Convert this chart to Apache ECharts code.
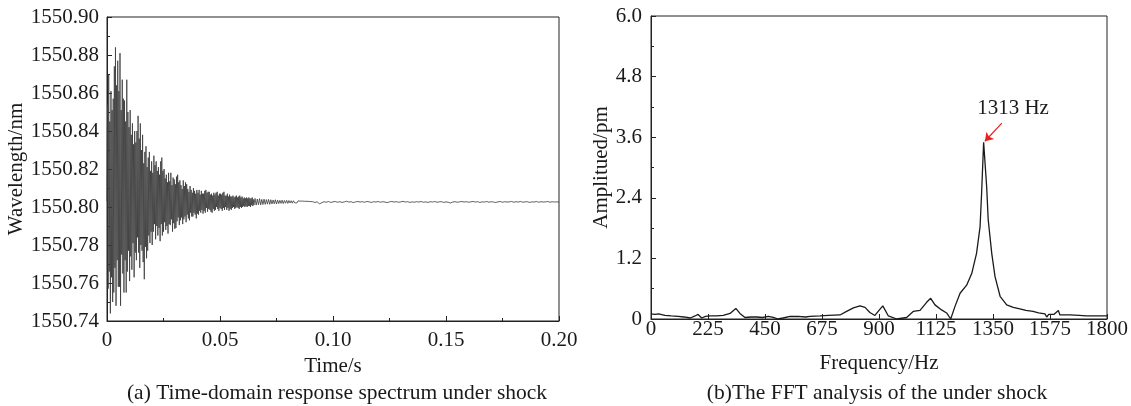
<!DOCTYPE html>
<html>
<head>
<meta charset="utf-8">
<script src="https://cdn.jsdelivr.net/npm/echarts@6/dist/echarts.min.js"></script>
<style>
html,body{margin:0;padding:0;background:#fff;}
#chart{width:1131px;height:406px;}
</style>
</head>
<body>
<div id="chart"></div>
<script>
// ---- (a) time-domain response: time (ms) and wavelength (nm) ----
var timeMs = [
0,0.25,0.5,0.75,1,1.25,1.5,1.75,2,2.25,2.5,2.75,3,3.25,3.5,3.75,4,4.25,4.5,4.75,
5,5.25,5.5,5.75,6,6.25,6.5,6.75,7,7.25,7.5,7.75,8,8.25,8.5,8.75,9,9.25,9.5,9.75,
10,10.25,10.5,10.75,11,11.25,11.5,11.75,12,12.25,12.5,12.75,13,13.25,13.5,13.75,14,14.25,14.5,14.75,
15,15.25,15.5,15.75,16,16.25,16.5,16.75,17,17.25,17.5,17.75,18,18.25,18.5,18.75,19,19.25,19.5,19.75,
20,20.25,20.5,20.75,21,21.25,21.5,21.75,22,22.25,22.5,22.75,23,23.25,23.5,23.75,24,24.25,24.5,24.75,
25,25.25,25.5,25.75,26,26.25,26.5,26.75,27,27.25,27.5,27.75,28,28.25,28.5,28.75,29,29.25,29.5,29.75,
30,30.25,30.5,30.75,31,31.25,31.5,31.75,32,32.25,32.5,32.75,33,33.25,33.5,33.75,34,34.25,34.5,34.75,
35,35.25,35.5,35.75,36,36.25,36.5,36.75,37,37.25,37.5,37.75,38,38.25,38.5,38.75,39,39.25,39.5,39.75,
40,40.25,40.5,40.75,41,41.25,41.5,41.75,42,42.25,42.5,42.75,43,43.25,43.5,43.75,44,44.25,44.5,44.75,
45,45.25,45.5,45.75,46,46.25,46.5,46.75,47,47.25,47.5,47.75,48,48.25,48.5,48.75,49,49.25,49.5,49.75,
50,50.25,50.5,50.75,51,51.25,51.5,51.75,52,52.25,52.5,52.75,53,53.25,53.5,53.75,54,54.25,54.5,54.75,
55,55.25,55.5,55.75,56,56.25,56.5,56.75,57,57.25,57.5,57.75,58,58.25,58.5,58.75,59,59.25,59.5,59.75,
60,60.25,60.5,60.75,61,61.25,61.5,61.75,62,62.25,62.5,62.75,63,63.25,63.5,63.75,64,64.25,64.5,64.75,
65,
65.5,66,66.5,67,67.5,68,68.5,69,69.5,70,70.5,71,71.5,72,72.5,73,73.5,74,74.5,75,
75.5,76,76.5,77,77.5,78,78.5,79,79.5,80,80.5,81,81.5,82,82.5,83,83.5,84,84.5,85,
85.5,86,86.5,87,87.5,88,88.5,89,89.5,90,
91,92,93,94,95,96,97,98,99,100,101,102,103,104,105,106,107,108,109,110,
111,112,113,114,115,116,117,118,119,120,121,122,123,124,125,126,127,128,129,130,
131,132,133,134,135,136,137,138,139,140,141,142,143,144,145,146,147,148,149,150,
151,152,153,154,155,156,157,158,159,160,161,162,163,164,165,166,167,168,169,170,
171,172,173,174,175,176,177,178,179,180,181,182,183,184,185,186,187,188,189,190,
191,192,193,194,195,196,197,198,199,200
];
var wavelengthNm = [
1550.803,
1550.854,1550.757,1550.870,1550.766,1550.845,1550.744,1550.861,1550.763,1550.851,1550.750,
1550.857,1550.755,1550.874,1550.768,1550.884,1550.748,1550.864,1550.772,1550.877,1550.758,
1550.861,1550.758,1550.881,1550.748,1550.851,1550.775,1550.867,1550.765,1550.857,1550.755,
1550.856,1550.772,1550.845,1550.755,1550.867,1550.766,1550.850,1550.777,1550.842,1550.761,
1550.851,1550.774,1550.838,1550.767,1550.844,1550.781,1550.833,1550.763,1550.840,1550.776,
1550.834,1550.772,1550.840,1550.784,1550.848,1550.776,1550.836,1550.768,1550.844,1550.780,
1550.830,1550.777,1550.838,1550.771,1550.823,1550.762,1550.829,1550.779,1550.832,1550.773,
1550.821,1550.777,1550.826,1550.785,1550.829,1550.781,1550.819,1550.787,1550.824,1550.780,
1550.818,1550.787,1550.827,1550.791,1550.822,1550.783,1550.824,1550.790,1550.819,1550.785,
1550.821,1550.789,1550.817,1550.782,1550.824,1550.791,1550.826,1550.785,1550.819,1550.787,
1550.820,1550.792,1550.815,1550.788,1550.817,1550.790,1550.813,1550.786,1550.818,1550.791,
1550.8135,1550.7905,1550.818,1550.7935,1550.8115,1550.787,1550.8155,1550.7915,1550.8145,1550.7885,
1550.812,1550.789,1550.816,1550.7925,1550.817,1550.7945,1550.813,1550.7905,1550.814,1550.793,
1550.8115,1550.7945,1550.8095,1550.791,1550.814,1550.7935,1550.811,1550.795,1550.813,1550.792,
1550.812,1550.796,1550.8095,1550.794,1550.808,1550.793,1550.811,1550.797,1550.809,1550.795,
1550.8075,1550.795,1550.810,1550.797,1550.8085,1550.796,1550.807,1550.794,1550.809,1550.7965,
1550.8075,1550.796,1550.809,1550.798,1550.8065,1550.797,1550.8085,1550.7985,1550.807,1550.7965,
1550.807,1550.798,1550.8085,1550.797,1550.809,1550.7995,1550.8075,1550.7975,1550.808,1550.799,
1550.808,1550.7985,1550.8065,1550.7975,1550.807,1550.797,1550.806,1550.799,1550.8075,1550.798,
1550.8065,1550.7985,1550.8075,1550.800,1550.808,1550.799,1550.806,1550.798,1550.807,1550.7995,
1550.807,1550.799,1550.8065,1550.798,1550.8075,1550.7995,1550.808,1550.7985,1550.806,1550.800,
1550.806,1550.7985,1550.807,1550.7995,1550.8055,1550.798,1550.8065,1550.799,1550.8055,1550.7985,
1550.8055,1550.7995,1550.806,1550.800,1550.805,1550.799,1550.8055,1550.7995,1550.806,1550.800,
1550.805,1550.7995,1550.8055,1550.799,1550.806,1550.800,1550.805,1550.7995,1550.8055,1550.800,
1550.8045,1550.8005,1550.805,1550.800,1550.8045,1550.8005,1550.805,1550.800,1550.8045,1550.8005,
1550.805,1550.8005,1550.8045,1550.800,1550.8045,1550.801,1550.805,1550.8005,1550.804,1550.801,
1550.8045,1550.8010,1550.8042,1550.8012,1550.8044,1550.8011,1550.8040,1550.8013,1550.8041,1550.8014,
1550.8039,1550.8015,1550.8040,1550.8014,1550.8038,1550.8016,1550.8037,1550.8017,1550.8038,1550.8016,
1550.8036,1550.8018,1550.8035,1550.8019,1550.8036,1550.8018,1550.8034,1550.8020,1550.8035,1550.8019,
1550.8034,1550.8021,1550.8033,1550.8020,1550.8033,1550.8022,1550.8032,1550.8021,1550.8032,1550.8023,
1550.8031,1550.8022,1550.8031,1550.8023,1550.8030,1550.8024,1550.8030,1550.8023,1550.8029,1550.8024,
1550.8028,1550.8024,1550.8027,1550.8017,1550.8022,1550.8028,1550.8025,1550.8029,1550.8024,1550.8027,
1550.8029,1550.8025,1550.8028,1550.8024,1550.8027,1550.8030,1550.8026,1550.8028,1550.8023,1550.8027,
1550.8029,1550.8026,1550.8028,1550.8025,1550.8029,1550.8027,1550.8024,1550.8028,1550.8026,1550.8029,
1550.8025,1550.8028,1550.8026,1550.8023,1550.8027,1550.8029,1550.8026,1550.8028,1550.8025,1550.8027,
1550.8030,1550.8026,1550.8028,1550.8024,1550.8027,1550.8025,1550.8028,1550.8026,1550.8029,1550.8025,
1550.8027,1550.8024,1550.8028,1550.8026,1550.8029,1550.8025,1550.8027,1550.8028,1550.8024,1550.8027,
1550.8025,1550.8021,1550.8026,1550.8028,1550.8025,1550.8027,1550.8029,1550.8026,1550.8028,1550.8025,
1550.8027,1550.8029,1550.8026,1550.8028,1550.8024,1550.8027,1550.8026,1550.8029,1550.8025,1550.8028,
1550.8026,1550.8024,1550.8027,1550.8029,1550.8025,1550.8028,1550.8026,1550.8027,1550.8029,1550.8025,
1550.8028,1550.8026,1550.8029,1550.8025,1550.8027,1550.8028,1550.8024,1550.8027,1550.8026,1550.8029,
1550.8025,1550.8028,1550.8026,1550.8027,1550.8029,1550.8025,1550.8028,1550.8026,1550.8027,1550.8026
];

// ---- (b) FFT spectrum: frequency (Hz) and amplitude (pm) ----
var freqHz = [0,15,30,55,80,107,130,155,174,186,200,215,233,259,285,312,335,351,371,395,417,440,463,483,501,521,549,580,610,628,667,700,746,772,799,825,845,864,884,900,915,937,970,1009,1035,1062,1088,1104,1121,1147,1167,1183,1200,1220,1246,1266,1285,1299,1305,1313,1318,1325,1331,1345,1358,1378,1404,1430,1456,1480,1508,1530,1555,1562,1570,1590,1608,1614,1654,1690,1720,1760,1785,1800];
var ampPm = [0.10,0.09,0.10,0.07,0.06,0.05,0.04,0.02,0.06,0.09,0.02,0.05,0.06,0.06,0.07,0.11,0.21,0.11,0.03,0.04,0.04,0.03,0.05,0.03,0.00,0.02,0.05,0.05,0.04,0.05,0.06,0.07,0.08,0.15,0.22,0.26,0.23,0.13,0.07,0.17,0.26,0.06,0.00,0.03,0.15,0.17,0.33,0.41,0.28,0.18,0.12,0.00,0.25,0.51,0.67,0.90,1.30,1.83,2.49,3.50,3.48,2.62,1.97,1.30,0.84,0.45,0.28,0.23,0.20,0.17,0.15,0.12,0.10,0.04,0.09,0.09,0.17,0.08,0.08,0.07,0.06,0.06,0.06,0.06];

// tick ranges and texts
var timeTicks = {min: 0, max: 0.2, step: 0.05};
var wlTicks = {min: 1550.74, max: 1550.90, step: 0.02};
var freqTicks = {min: 0, max: 1800, step: 225};
var ampTicks = {min: 0, max: 6.0, step: 1.2};
var peakLabel = '1313 Hz';
var peakFreq = 1313, peakAmp = 3.50;
var arrowStart = [1385, 3.88];
var labelAt = [1429, 4.16];
var captionA = '(a) Time-domain response spectrum under shock';
var captionB = '(b)The FFT analysis of the under shock';

var FONT = '"Liberation Serif","Times New Roman",serif';
var TXT = '#1a1a1a';
var FS = 21;
var FS_CAP = 21.5;

var timeData = timeMs.map(function (t, i) { return [t / 1000, wavelengthNm[i]]; });
var fftData = freqHz.map(function (f, i) { return [f, ampPm[i]]; });

function axisCommon() {
  return {
    axisLine: {show: true, lineStyle: {color: '#222', width: 1}},
    axisTick: {show: true, inside: true, length: 5, lineStyle: {color: '#222', width: 1}},
    splitLine: {show: false},
    nameTextStyle: {color: TXT, fontFamily: FONT, fontSize: FS}
  };
}
function merge(a, b) { for (var k in b) a[k] = b[k]; return a; }

var chart = echarts.init(document.getElementById('chart'), null, {renderer: 'canvas'});
var option = {
  animation: false,
  backgroundColor: '#fff',
  title: [
    {text: captionA, left: 332, top: 377, textAlign: 'center',
     textStyle: {color: TXT, fontFamily: FONT, fontSize: FS_CAP, fontWeight: 'normal'}},
    {text: captionB, left: 872, top: 377, textAlign: 'center',
     textStyle: {color: TXT, fontFamily: FONT, fontSize: FS_CAP, fontWeight: 'normal'}}
  ],
  grid: [
    {left: 107, top: 17, width: 452, height: 304, show: true, borderColor: '#222', borderWidth: 1, containLabel: false},
    {left: 651, top: 16, width: 456, height: 303, show: true, borderColor: '#222', borderWidth: 1, containLabel: false}
  ],
  xAxis: [
    merge(axisCommon(), {
      type: 'value', gridIndex: 0, min: timeTicks.min, max: timeTicks.max, interval: timeTicks.step,
      name: 'Time/s', nameLocation: 'middle', nameGap: 33,
      minorTick: {show: true, splitNumber: 2, length: 3, lineStyle: {color: '#222'}},
      axisLabel: {color: TXT, fontFamily: FONT, fontSize: FS, margin: 9,
        formatter: function (v) { return v === 0 ? '0' : v.toFixed(2); }}
    }),
    merge(axisCommon(), {
      type: 'value', gridIndex: 1, min: freqTicks.min, max: freqTicks.max, interval: freqTicks.step,
      name: 'Frequency/Hz', nameLocation: 'middle', nameGap: 34,
      axisLabel: {color: TXT, fontFamily: FONT, fontSize: FS, margin: 0,
        formatter: function (v) { return String(Math.round(v)); }}
    })
  ],
  yAxis: [
    merge(axisCommon(), {
      type: 'value', gridIndex: 0, min: wlTicks.min, max: wlTicks.max, interval: wlTicks.step,
      name: 'Wavelength/nm', nameLocation: 'middle', nameGap: 77,
      minorTick: {show: true, splitNumber: 2, length: 3, lineStyle: {color: '#222'}},
      axisLabel: {color: TXT, fontFamily: FONT, fontSize: FS, margin: 8,
        formatter: function (v) { return v.toFixed(2); }}
    }),
    merge(axisCommon(), {
      type: 'value', gridIndex: 1, min: ampTicks.min, max: ampTicks.max, interval: ampTicks.step,
      name: 'Amplitued/pm', nameLocation: 'middle', nameGap: 38,
      minorTick: {show: true, splitNumber: 2, length: 3, lineStyle: {color: '#222'}},
      axisLabel: {color: TXT, fontFamily: FONT, fontSize: FS, margin: 9,
        formatter: function (v) { return v === 0 ? '0' : v.toFixed(1); }}
    })
  ],
  series: [
    {
      type: 'line', xAxisIndex: 0, yAxisIndex: 0, data: timeData,
      showSymbol: false, symbol: 'none', silent: true,
      lineStyle: {color: '#3a3a3a', width: 0.9, opacity: 0.9}
    },
    {
      type: 'line', xAxisIndex: 1, yAxisIndex: 1, data: fftData,
      showSymbol: false, symbol: 'none', silent: true,
      lineStyle: {color: '#1a1a1a', width: 1.3},
      markLine: {
        silent: true, symbol: ['none', 'arrow'], symbolSize: 8,
        lineStyle: {color: '#e8201c', width: 1.2, type: 'solid'},
        itemStyle: {color: '#e8201c'},
        label: {show: false},
        data: [[{coord: arrowStart}, {coord: [peakFreq + 5, peakAmp + 0.02]}]]
      },
      markPoint: {
        silent: true, symbol: 'circle', symbolSize: 0,
        label: {show: true, position: 'inside', formatter: peakLabel, color: TXT, fontFamily: FONT, fontSize: FS},
        data: [{coord: labelAt}]
      }
    }
  ]
};
chart.setOption(option);
</script>
</body>
</html>
